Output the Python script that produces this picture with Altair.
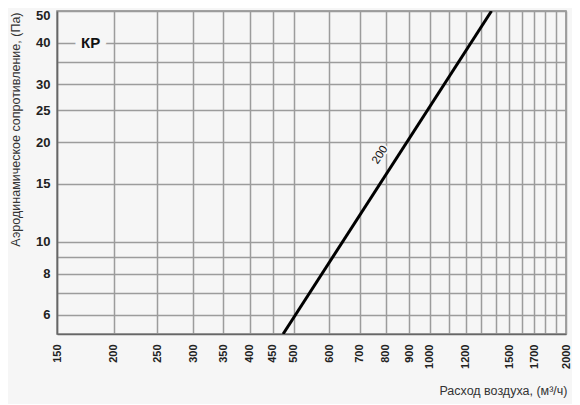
import altair as alt
import pandas as pd

# ---- data ----
x_grid = [150, 200, 250, 300, 350, 400, 450, 500, 600, 700, 800, 900, 1000,
          1100, 1200, 1300, 1400, 1500, 1600, 1700, 1800, 1900, 2000]
x_labels = [150, 200, 250, 300, 350, 400, 450, 500, 600, 700, 800, 900, 1000,
            1200, 1500, 1700, 2000]
y_grid = [6, 7, 8, 9, 10, 15, 20, 25, 30, 35, 40, 50]
y_labels = [6, 8, 10, 15, 20, 25, 30, 40, 50]

curve_flow = [474, 1369]
curve_dp = [5.25, 50]

curve_label_text = ["200"]
curve_label_flow = [777]
curve_label_dp = [18.3]

kp_text = ["КР"]
kp_flow = [178]
kp_dp = [40]

BG = "#f6f6f6"
FONT = "Liberation Sans"

df_curve = pd.DataFrame({"flow": curve_flow, "dp": curve_dp})
df_lab = pd.DataFrame({"flow": curve_label_flow, "dp": curve_label_dp, "t": curve_label_text})
df_kp = pd.DataFrame({"flow": kp_flow, "dp": kp_dp, "t": kp_text})

xscale = alt.Scale(type="log", domain=[150, 2000], nice=False)
yscale = alt.Scale(type="log", domain=[5.25, 50], nice=False)

xaxis = alt.Axis(
    values=x_grid,
    labelExpr=f"indexof({x_labels}, datum.value) >= 0 ? datum.label : ''",
    format="d",
    labelAngle=270,
    labelFont=FONT, labelFontSize=11, labelFontWeight="bold", labelColor="#222",
    labelPadding=10, labelFlush=False, labelOverlap=False,
    ticks=False,
    grid=True, gridColor="#9c9c9c", gridWidth=1.5,
    domainColor="#666", domainWidth=1.5,
    title="Расход воздуха, (м³/ч)",
    titleFont=FONT, titleFontSize=12.5, titleFontWeight="normal", titleColor="#333",
    titleAnchor="end", titleAlign="right", titleBaseline="middle",
    titleX=510, titleY=56,
)
yaxis = alt.Axis(
    values=y_grid,
    labelExpr=f"indexof({y_labels}, datum.value) >= 0 ? datum.label : ''",
    format="d",
    labelFont=FONT, labelFontSize=13, labelFontWeight="bold", labelColor="#222",
    labelPadding=7, labelFlush=False, labelOverlap=False,
    labelOffset={"condition": {"test": "datum.value == 50", "value": 4}, "value": 0},
    ticks=False,
    grid=True, gridColor="#9c9c9c", gridWidth=1.5,
    domainColor="#666", domainWidth=1.5,
    title="Аэродинамическое сопротивление, (Па)",
    titleFont=FONT, titleFontSize=12.5, titleFontWeight="normal", titleColor="#333",
    titleAngle=270, titleAlign="right", titleBaseline="middle",
    titleX=-42, titleY=1,
)

line = alt.Chart(df_curve).mark_line(color="black", strokeWidth=3, clip=True).encode(
    x=alt.X("flow:Q", scale=xscale, axis=xaxis),
    y=alt.Y("dp:Q", scale=yscale, axis=yaxis),
)

lab_halo = alt.Chart(df_lab).mark_text(
    angle=303, font=FONT, fontSize=11.5, stroke=BG, strokeWidth=4, strokeJoin="round",
    color=BG,
).encode(x=alt.X("flow:Q", scale=xscale), y=alt.Y("dp:Q", scale=yscale), text="t:N")
lab = alt.Chart(df_lab).mark_text(
    angle=303, font=FONT, fontSize=11.5, color="#111",
).encode(x=alt.X("flow:Q", scale=xscale), y=alt.Y("dp:Q", scale=yscale), text="t:N")

kp_halo = alt.Chart(df_kp).mark_text(
    font=FONT, fontSize=15, fontWeight="bold", stroke=BG, strokeWidth=13,
    strokeJoin="round", color=BG,
).encode(x=alt.X("flow:Q", scale=xscale), y=alt.Y("dp:Q", scale=yscale), text="t:N")
kp = alt.Chart(df_kp).mark_text(
    font=FONT, fontSize=15, fontWeight="bold", color="#111",
).encode(x=alt.X("flow:Q", scale=xscale), y=alt.Y("dp:Q", scale=yscale), text="t:N")

chart = alt.layer(line, lab_halo, lab, kp_halo, kp).properties(
    width=509, height=323,
    autosize=alt.AutoSizeParams(type="none"),
    padding={"left": 49, "top": 3, "right": 6, "bottom": 70},
    background=BG,
).configure_view(stroke="#888", strokeWidth=1.5, fill=BG)

chart.save("out.html", embed_options={"renderer": "svg", "actions": False})
